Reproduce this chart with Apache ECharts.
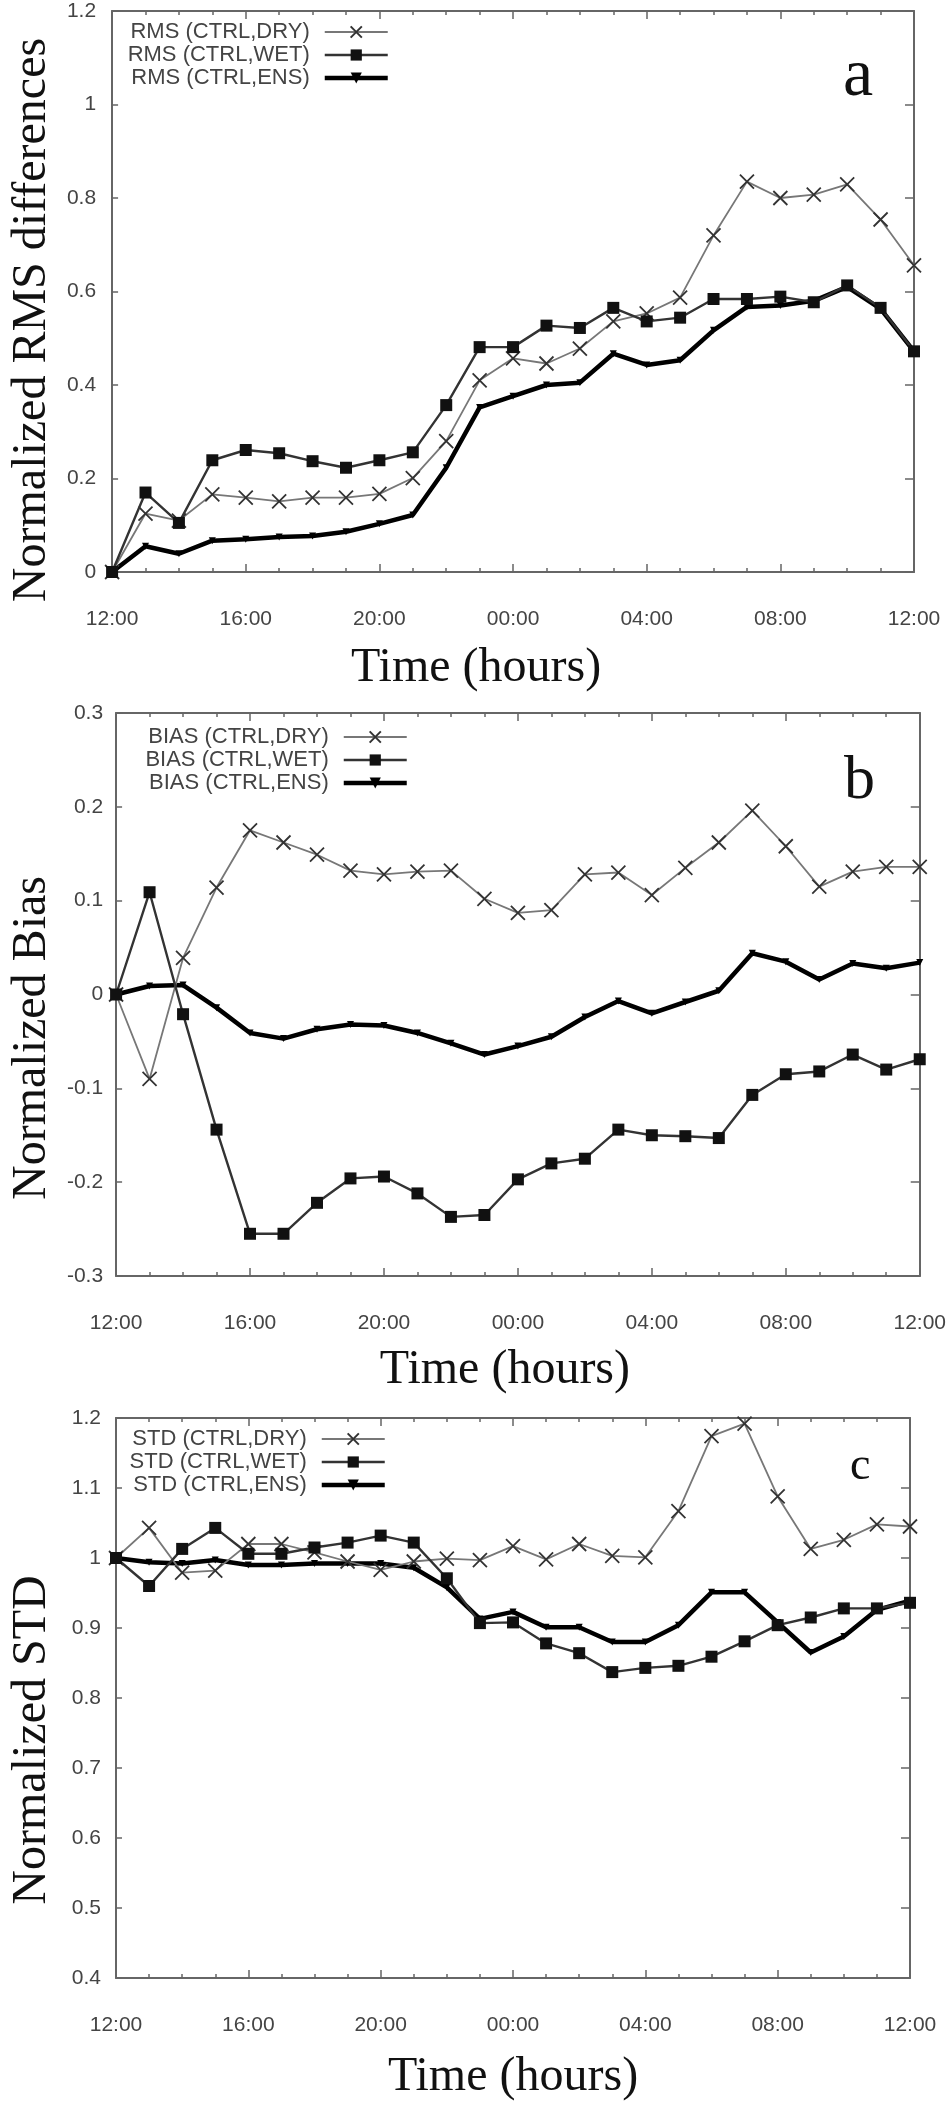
<!DOCTYPE html>
<html>
<head>
<meta charset="utf-8">
<script src="https://cdn.jsdelivr.net/npm/echarts@6/dist/echarts.min.js"></script>
<style>
html,body{margin:0;padding:0;background:#fff;}
#c{width:949px;height:2104px;}
</style>
</head>
<body>
<div id="c"></div>
<script>
// hours after 12:00 (x positions)
const hours = [0,1,2,3,4,5,6,7,8,9,10,11,12,13,14,15,16,17,18,19,20,21,22,23,24];
const xTickLabels = ['12:00','16:00','20:00','00:00','04:00','08:00','12:00'];

// Panel a: normalized RMS differences
const rmsDry = [0,0.125,0.11,0.166,0.159,0.151,0.159,0.159,0.167,0.201,0.28,0.41,0.457,0.446,0.478,0.536,0.553,0.587,0.72,0.835,0.80,0.807,0.829,0.754,0.656];
const rmsWet = [0,0.17,0.105,0.239,0.261,0.254,0.237,0.223,0.239,0.256,0.357,0.481,0.481,0.527,0.522,0.565,0.536,0.544,0.584,0.584,0.589,0.577,0.613,0.565,0.472];
const rmsEns = [0,0.055,0.039,0.067,0.07,0.075,0.077,0.086,0.103,0.122,0.223,0.352,0.376,0.4,0.405,0.467,0.443,0.453,0.517,0.567,0.57,0.58,0.61,0.563,0.472];

// Panel b: normalized bias
const biasDry = [0,-0.09,0.039,0.114,0.175,0.162,0.149,0.132,0.128,0.131,0.132,0.102,0.087,0.09,0.128,0.13,0.106,0.135,0.162,0.196,0.158,0.115,0.131,0.136,0.136];
const biasWet = [0,0.109,-0.021,-0.144,-0.255,-0.255,-0.222,-0.196,-0.194,-0.212,-0.237,-0.235,-0.197,-0.18,-0.175,-0.144,-0.15,-0.151,-0.153,-0.107,-0.085,-0.082,-0.064,-0.08,-0.069];
const biasEns = [0,0.009,0.01,-0.014,-0.041,-0.047,-0.037,-0.032,-0.033,-0.041,-0.052,-0.064,-0.055,-0.045,-0.024,-0.007,-0.02,-0.008,0.004,0.044,0.035,0.016,0.033,0.028,0.034];

// Panel c: normalized STD
const stdDry = [1.0,1.043,0.979,0.982,1.02,1.02,1.008,0.995,0.983,0.995,0.999,0.997,1.017,0.998,1.02,1.003,1.001,1.067,1.174,1.192,1.088,1.013,1.026,1.048,1.045];
const stdWet = [1.0,0.96,1.013,1.043,1.006,1.006,1.015,1.022,1.032,1.022,0.971,0.907,0.908,0.878,0.864,0.837,0.843,0.846,0.859,0.881,0.904,0.915,0.928,0.928,0.936];
const stdEns = [1.0,0.994,0.992,0.997,0.99,0.99,0.992,0.992,0.992,0.986,0.958,0.913,0.923,0.901,0.901,0.88,0.88,0.904,0.951,0.951,0.908,0.865,0.888,0.926,0.939];

const legendA = ['RMS (CTRL,DRY)','RMS (CTRL,WET)','RMS (CTRL,ENS)'];
const legendB = ['BIAS (CTRL,DRY)','BIAS (CTRL,WET)','BIAS (CTRL,ENS)'];
const legendC = ['STD (CTRL,DRY)','STD (CTRL,WET)','STD (CTRL,ENS)'];
const panelLetters = ['a','b','c'];
const yTitles = ['Normalized RMS differences','Normalized Bias','Normalized STD'];
const xTitle = 'Time (hours)';

const frameColor = '#666';
const labelColor = '#444';
const sans = 'Liberation Sans, Arial, sans-serif';
const serif = 'Liberation Serif, Times New Roman, serif';

const panels = [
  {grid:{left:108,right:35,top:11,height:561}, ymin:0, ymax:1.2, yint:0.2, yLabelMargin:16,
   yGap:45, yPad:[0,57,0,0], xGap:72, xPad:[0,74,0,0], legend:legendA, legTop:21, legRight:559,
   letter:{left:843,top:43,size:68}, data:[rmsDry,rmsWet,rmsEns]},
  {grid:{left:110,right:27,top:713,height:563}, ymin:-0.3, ymax:0.3, yint:0.1, yLabelMargin:13,
   yGap:49, yPad:[0,87,0,0], xGap:70, xPad:[0,26,0,0], legend:legendB, legTop:726, legRight:540,
   letter:{left:844,top:751,size:62}, data:[biasDry,biasWet,biasEns]},
  {grid:{left:101,right:39,top:1418,height:560}, ymin:0.4, ymax:1.2, yint:0.1, yLabelMargin:15,
   yGap:60, yPad:[0,84,0,0], xGap:75, xPad:[0,0,0,0], legend:legendC, legTop:1428, legRight:562,
   letter:{left:850,top:1444,size:46}, data:[stdDry,stdWet,stdEns]}
];

const crossPath = 'path://M0,0L10,10M10,0L0,10';
const styles = [
  {symbol:crossPath, symbolSize:14, lineStyle:{color:'#777',width:1.8},
   itemStyle:{color:'#333',borderColor:'#333',borderWidth:1.8}, z:3},
  {symbol:'rect', symbolSize:12, lineStyle:{color:'#333',width:2.4},
   itemStyle:{color:'#111'}, z:4},
  {symbol:'triangle', symbolSize:7, symbolRotate:180, lineStyle:{color:'#000',width:4.5},
   itemStyle:{color:'#000'}, z:2}
];

const option = {
  animation:false,
  backgroundColor:'#fff',
  grid:[], xAxis:[], yAxis:[], series:[], legend:[], title:[]
};

panels.forEach((p, pi) => {
  option.grid.push(p.grid);
  const axLine = {show:true, onZero:false, lineStyle:{color:frameColor,width:2}};
  option.xAxis.push({
    type:'value', gridIndex:pi, position:'bottom', min:0, max:24, interval:4,
    axisLine:axLine,
    axisTick:{show:true, inside:true, length:8, lineStyle:{color:frameColor,width:1.5}},
    minorTick:{show:true, splitNumber:4, length:4, lineStyle:{color:frameColor,width:1.5}},
    splitLine:{show:false}, minorSplitLine:{show:false},
    axisLabel:{margin:37, color:labelColor, fontFamily:sans, fontSize:21,
      formatter: v => xTickLabels[Math.round(v/4)]},
    name:xTitle, nameLocation:'middle', nameGap:p.xGap,
    nameTextStyle:{fontFamily:serif, fontSize:48, color:'#111', padding:p.xPad}
  });
  option.xAxis.push({
    type:'value', gridIndex:pi, position:'top', min:0, max:24, interval:4,
    axisLine:axLine,
    axisTick:{show:true, inside:true, length:8, lineStyle:{color:frameColor,width:1.5}},
    minorTick:{show:true, splitNumber:4, length:4, lineStyle:{color:frameColor,width:1.5}},
    splitLine:{show:false}, axisLabel:{show:false}
  });
  option.yAxis.push({
    type:'value', gridIndex:pi, position:'left', min:p.ymin, max:p.ymax, interval:p.yint,
    axisLine:axLine,
    axisTick:{show:true, inside:true, length:6, lineStyle:{color:frameColor,width:1.5}},
    splitLine:{show:false},
    axisLabel:{margin:p.yLabelMargin, color:labelColor, fontFamily:sans, fontSize:21},
    name:yTitles[pi], nameLocation:'middle', nameGap:p.yGap, nameRotate:90,
    nameTextStyle:{fontFamily:serif, fontSize:48, color:'#111', padding:p.yPad}
  });
  option.yAxis.push({
    type:'value', gridIndex:pi, position:'right', min:p.ymin, max:p.ymax, interval:p.yint,
    axisLine:axLine,
    axisTick:{show:true, inside:true, length:9, lineStyle:{color:frameColor,width:1.5}},
    splitLine:{show:false}, axisLabel:{show:false}
  });
  p.data.forEach((vals, si) => {
    const st = styles[si];
    option.series.push(Object.assign({
      type:'line', name:p.legend[si], xAxisIndex:pi*2, yAxisIndex:pi*2,
      showSymbol:true, showAllSymbol:true,
      data: hours.map((h, i) => [h, vals[i]])
    }, st));
  });
  option.legend.push({
    data:p.legend.map((n, si) => ({name:n, lineStyle:{width:styles[si].lineStyle.width, color:styles[si].lineStyle.color}})),
    orient:'vertical', align:'right', right:p.legRight, top:p.legTop,
    padding:0, itemGap:1, itemWidth:63, itemHeight:14,
    textStyle:{fontFamily:sans, fontSize:22, color:labelColor, padding:[0,10,0,0]},
    selectedMode:false
  });
  option.title.push({
    text:panelLetters[pi], left:p.letter.left, top:p.letter.top, padding:0,
    textStyle:{fontFamily:serif, fontSize:p.letter.size, fontWeight:'normal', color:'#111'}
  });
});

const chart = echarts.init(document.getElementById('c'), null, {renderer:'canvas'});
chart.setOption(option);
</script>
</body>
</html>
